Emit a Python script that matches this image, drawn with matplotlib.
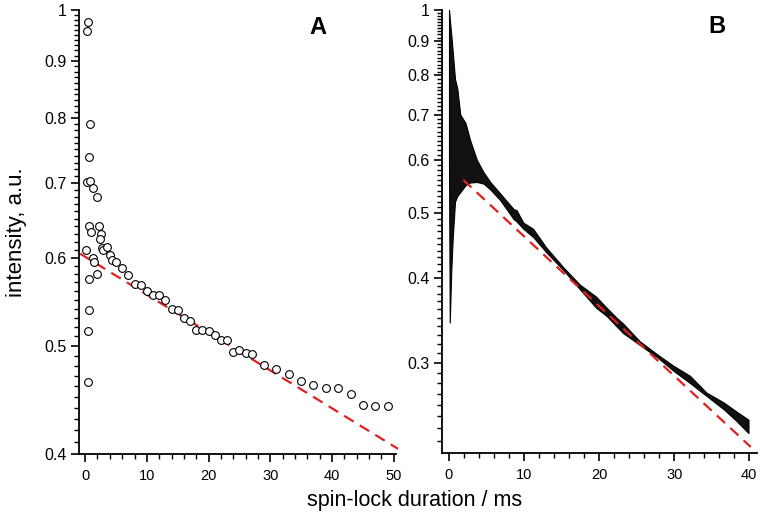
import numpy as np
import matplotlib
matplotlib.use("Agg")
import matplotlib.pyplot as plt
from matplotlib.ticker import FixedLocator, MultipleLocator, NullFormatter

plt.rcParams['font.family'] = ['Liberation Sans', 'DejaVu Sans']

# ---- Panel A data (circles) ----
a_x = [0.43, 0.3, 0.86, 0.65, 0.3, 0.86, 1.24, 1.89, 0.65, 0.97, 2.2, 2.64, 2.43, 2.7,
       2.97, 3.56, 3.99, 4.37, 5.02, 5.99, 7.0, 0.2, 1.35, 1.5, 2.0, 0.65, 0.65, 0.43,
       0.54, 8.0, 9.0, 10.0, 11.0, 12.0, 13.0, 14.0, 15.0, 16.0, 17.0, 18.0, 19.0, 20.0,
       21.0, 22.0, 23.0, 24.0, 25.0, 26.0, 27.0, 29.0, 31.0, 33.0, 35.0, 37.0, 39.0,
       41.0, 43.0, 45.0, 47.0, 49.0]
a_y = [0.976, 0.958, 0.790, 0.739, 0.701, 0.703, 0.692, 0.680, 0.641, 0.632, 0.640,
       0.630, 0.624, 0.612, 0.609, 0.613, 0.603, 0.597, 0.595, 0.587, 0.579, 0.610,
       0.599, 0.594, 0.580, 0.574, 0.538, 0.516, 0.464, 0.568, 0.567, 0.560, 0.555,
       0.555, 0.550, 0.539, 0.538, 0.530, 0.526, 0.517, 0.517, 0.516, 0.511, 0.506,
       0.506, 0.494, 0.496, 0.493, 0.492, 0.481, 0.477, 0.472, 0.465, 0.461, 0.458,
       0.458, 0.453, 0.443, 0.442, 0.442]

# Panel A mono-exponential fit (dashed red)
a_fit_x = [-0.8, 50.7]
a_fit_amp = 0.601
a_fit_rate = 0.00782   # 1/ms

# ---- Panel B data (envelope of the dense oscillating trace) ----
b_x = [0.0, 0.1, 0.3, 0.5, 0.8, 1.1, 1.5, 2.2, 2.8, 3.7, 4.6, 5.5, 6.8, 8.6, 9.0, 9.9,
       11.2, 13.0, 15.2, 17.4, 19.6, 21.0, 22.3, 23.2, 25.4, 27.7, 29.9, 32.1, 34.3,
       36.6, 38.3, 39.9]
b_hi = [1.0, 0.97, 0.92, 0.867, 0.79, 0.766, 0.70, 0.68, 0.642, 0.60, 0.575, 0.556,
        0.535, 0.507, 0.505, 0.484, 0.474, 0.444, 0.416, 0.392, 0.376, 0.362, 0.350, 0.343,
        0.323, 0.309, 0.297, 0.287, 0.271, 0.262, 0.254, 0.247]
b_lo = [0.60, 0.344, 0.41, 0.46, 0.52, 0.53, 0.537, 0.55, 0.555, 0.556, 0.553, 0.542,
        0.523, 0.490, 0.486, 0.474, 0.461, 0.437, 0.412, 0.386, 0.362, 0.352, 0.340, 0.332,
        0.319, 0.306, 0.292, 0.280, 0.268, 0.256, 0.246, 0.236]

b_fit_x = [1.9, 40.2]
b_fit_amp = 0.586
b_fit_rate = 0.0238

a_ticks = [0.4, 0.5, 0.6, 0.7, 0.8, 0.9, 1.0]
a_labels = ['0.4', '0.5', '0.6', '0.7', '0.8', '0.9', '1']
b_ticks = [0.3, 0.4, 0.5, 0.6, 0.7, 0.8, 0.9, 1.0]
b_labels = ['0.3', '0.4', '0.5', '0.6', '0.7', '0.8', '0.9', '1']

red = '#e02020'

fig = plt.figure(figsize=(7.6, 5.27), dpi=100)
axA = fig.add_axes([0.1039, 0.1385, 0.4166, 0.8425])
axB = fig.add_axes([0.5816, 0.1404, 0.4141, 0.8406])


def style(ax, yt, yl, ymin, ymax, xmin, xmax):
    ax.set_yscale('log')
    ax.set_ylim(ymin, ymax)
    ax.set_xlim(xmin, xmax)
    for s in ['top', 'right']:
        ax.spines[s].set_visible(False)
    for s in ['left', 'bottom']:
        ax.spines[s].set_linewidth(1.3)
    ax.yaxis.set_major_locator(FixedLocator(yt))
    ax.set_yticklabels(yl)
    minors = [v / 100 for v in range(int(round(ymin * 100)), 101) if v % 10 != 0]
    ax.yaxis.set_minor_locator(FixedLocator(minors))
    ax.yaxis.set_minor_formatter(NullFormatter())
    ax.xaxis.set_major_locator(MultipleLocator(10))
    ax.xaxis.set_minor_locator(MultipleLocator(2))
    ax.tick_params(which='major', direction='out', length=6, width=1.2, pad=3)
    ax.tick_params(axis='y', which='major', labelsize=11.5)
    ax.tick_params(axis='x', which='major', labelsize=10.5, pad=5)
    ax.tick_params(which='minor', direction='out', length=3.5, width=1.0)


# Panel A
fx = np.array(a_fit_x)
axA.plot(fx, a_fit_amp * np.exp(-a_fit_rate * fx), color=red, lw=1.6,
         dashes=(5, 3.2), clip_on=False, zorder=2)
axA.plot(a_x, a_y, linestyle='none', marker='o', ms=5.6, mfc='white', mec='black',
         mew=0.8, zorder=3)
style(axA, a_ticks, a_labels, 0.4, 1.0, -1.0, 50.3)
axA.text(0.418, 0.947, 'A', transform=fig.transFigure, ha='center', va='center',
         fontsize=17, fontweight='bold')

# Panel B
axB.fill_between(b_x, b_lo, b_hi, color='#111111', lw=0.8, edgecolor='black', zorder=2)
fx = np.array(b_fit_x)
axB.plot(fx, b_fit_amp * np.exp(-b_fit_rate * fx), color=red, lw=1.6,
         dashes=(5, 3.2), clip_on=False, zorder=3)
style(axB, b_ticks, b_labels, 0.2205, 1.0, -0.93, 41.0)
axB.text(0.943, 0.949, 'B', transform=fig.transFigure, ha='center', va='center',
         fontsize=17, fontweight='bold')

fig.text(0.022, 0.56, 'intensity, a.u.', rotation=90, ha='center', va='center', fontsize=16)
fig.text(0.546, 0.05, 'spin-lock duration / ms', ha='center', va='center', fontsize=15.5)

fig.savefig('out.png', dpi=100)
